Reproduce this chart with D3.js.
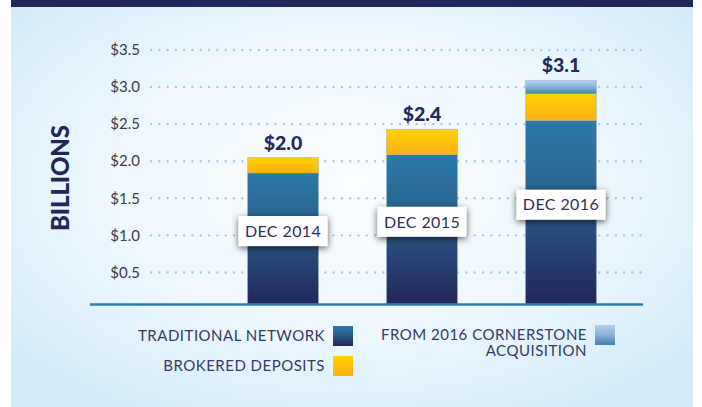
<!DOCTYPE html>
<html>
<head>
<meta charset="utf-8">
<script src="https://cdn.jsdelivr.net/npm/d3@7"></script>
<style>
  body { margin: 0; background: #fff; }
  svg { display: block; font-family: Lato, "Open Sans", sans-serif; }
</style>
</head>
<body>
<svg id="chart"></svg>
<script>
// values, in billions
const categories = ['DEC 2014', 'DEC 2015', 'DEC 2016'];
const traditional = [1.84, 2.09, 2.55];
const brokered = [0.21, 0.34, 0.36];
const cornerstone = [0, 0, 0.18];
const totalLabels = ['$2.0', '$2.4', '$3.1'];
const yTicks = [0.5, 1.0, 1.5, 2.0, 2.5, 3.0, 3.5];

const W = 702, H = 407;
const svg = d3.select('#chart').attr('width', W).attr('height', H);
const defs = svg.append('defs');

const bg = defs.append('radialGradient').attr('id', 'bg')
    .attr('cx', '50%').attr('cy', '45%').attr('r', '65%');
bg.append('stop').attr('offset', '0%').attr('stop-color', '#fbfdff');
bg.append('stop').attr('offset', '55%').attr('stop-color', '#eef8fe');
bg.append('stop').attr('offset', '100%').attr('stop-color', '#d3ecfa');

const grad = (id, c1, c2, mid) => {
    const g = defs.append('linearGradient').attr('id', id)
        .attr('x1', 0).attr('y1', 0).attr('x2', 0).attr('y2', 1);
    g.append('stop').attr('offset', '0%').attr('stop-color', c1);
    if (mid) g.append('stop').attr('offset', mid[0]).attr('stop-color', mid[1]);
    g.append('stop').attr('offset', '100%').attr('stop-color', c2);
};
grad('g-trad', '#2a7aa9', '#21265a', ['35%', '#2a6591']);
grad('g-brok', '#ffd200', '#fcb018');
grad('g-corn', '#b6cfea', '#3f80b5', ['45%', '#8fb4da']);

const shadow = defs.append('filter').attr('id', 'shadow')
    .attr('x', '-30%').attr('y', '-60%').attr('width', '160%').attr('height', '220%');
shadow.append('feDropShadow').attr('dx', 0).attr('dy', 2)
    .attr('stdDeviation', 3.5).attr('flood-color', '#000').attr('flood-opacity', 0.65);

// background panel and top band
svg.append('rect').attr('x', 11).attr('y', 0).attr('width', 682).attr('height', H).attr('fill', 'url(#bg)');
svg.append('rect').attr('x', 11).attr('y', 0).attr('width', 682).attr('height', 7).attr('fill', '#22275a');

const x = d3.scaleBand()
    .domain(categories)
    .range([179.5, 664.5])
    .paddingInner(0.49)
    .paddingOuter(0.49);

const y = d3.scaleLinear()
    .domain([0, 3.5])
    .range([309.5, 50]);

const baseY = 304;

// gridlines
svg.append('g').selectAll('line')
    .data(yTicks)
    .join('line')
    .attr('x1', 151).attr('x2', 641)
    .attr('y1', d => y(d)).attr('y2', d => y(d))
    .attr('stroke', '#a9c6e6')
    .attr('stroke-width', 2.4)
    .attr('stroke-linecap', 'round')
    .attr('stroke-dasharray', '0 8.3');

svg.append('g').selectAll('text')
    .data(yTicks)
    .join('text')
    .attr('x', 140)
    .attr('y', d => y(d))
    .attr('dy', '0.35em')
    .attr('text-anchor', 'end')
    .attr('fill', '#3d3d45')
    .style('font-size', '15px')
    .text(d => '$' + d.toFixed(1));

// stacked bars
const rows = categories.map((c, i) => ({
    cat: c, traditional: traditional[i], brokered: brokered[i], cornerstone: cornerstone[i]
}));
const keys = ['traditional', 'brokered', 'cornerstone'];
const fills = { traditional: 'url(#g-trad)', brokered: 'url(#g-brok)', cornerstone: 'url(#g-corn)' };
const series = d3.stack().keys(keys)(rows);

svg.append('g').selectAll('g')
    .data(series)
    .join('g')
    .attr('fill', d => fills[d.key])
    .selectAll('rect')
    .data(d => d.filter(p => p[1] > p[0]))
    .join('rect')
    .attr('x', d => x(d.data.cat))
    .attr('width', x.bandwidth())
    .attr('y', d => y(d[1]))
    .attr('height', d => (d[0] === 0 ? baseY : y(d[0])) - y(d[1]));

// thin edges on the bars
svg.append('g').selectAll('rect')
    .data(rows)
    .join('rect')
    .attr('x', d => x(d.cat))
    .attr('width', x.bandwidth())
    .attr('y', d => y(d.traditional + d.brokered + d.cornerstone))
    .attr('height', d => baseY - y(d.traditional + d.brokered + d.cornerstone))
    .attr('fill', 'none')
    .attr('stroke', '#8ea6c4')
    .attr('stroke-opacity', 0.45)
    .attr('stroke-width', 1);

// totals
svg.append('g').selectAll('text')
    .data(rows)
    .join('text')
    .attr('x', d => x(d.cat) + x.bandwidth() / 2)
    .attr('y', d => y(d.traditional + d.brokered + d.cornerstone) - 8)
    .attr('text-anchor', 'middle')
    .attr('fill', '#232a5c')
    .style('font-size', '19.5px')
    .style('font-weight', 900)
    .text((d, i) => totalLabels[i]);

// date labels
const tags = svg.append('g').selectAll('g')
    .data(rows)
    .join('g')
    .attr('transform', d => `translate(${x(d.cat) + x.bandwidth() / 2},${(y(d.traditional) + baseY) / 2 - 7.5})`);
tags.append('rect')
    .attr('x', -44.5).attr('y', -15)
    .attr('width', 89).attr('height', 30)
    .attr('fill', '#fff')
    .attr('filter', 'url(#shadow)');
tags.append('text')
    .attr('text-anchor', 'middle')
    .attr('dy', '0.36em')
    .attr('fill', '#2b2f60')
    .style('font-size', '16px')
    .style('letter-spacing', '0.4px')
    .text(d => d.cat);

// baseline
svg.append('line')
    .attr('x1', 90).attr('x2', 643)
    .attr('y1', baseY + 0.5).attr('y2', baseY + 0.5)
    .attr('stroke', '#3479ab')
    .attr('stroke-width', 2.5);

// axis title
svg.append('text')
    .attr('transform', 'translate(69,178) rotate(-90)')
    .attr('text-anchor', 'middle')
    .attr('fill', '#22275a')
    .style('font-size', '24px')
    .style('font-weight', 900)
    .attr('textLength', 106)
    .text('BILLIONS');

// legend
const legend = [
    { label: ['TRADITIONAL NETWORK'], fill: 'url(#g-trad)', x: 333, y: 326 },
    { label: ['BROKERED DEPOSITS'], fill: 'url(#g-brok)', x: 333, y: 356 },
    { label: ['FROM 2016 CORNERSTONE', 'ACQUISITION'], fill: 'url(#g-corn)', x: 595, y: 325 }
];
const lg = svg.append('g').selectAll('g')
    .data(legend)
    .join('g')
    .attr('transform', d => `translate(${d.x},${d.y})`);
lg.append('rect')
    .attr('width', 20).attr('height', 20)
    .attr('fill', d => d.fill);
lg.append('text')
    .attr('text-anchor', 'end')
    .attr('fill', '#353a6a')
    .style('font-size', '15px')
    .style('letter-spacing', '0.5px')
    .selectAll('tspan')
    .data(d => d.label)
    .join('tspan')
    .attr('x', -8)
    .attr('y', (d, i) => 9.5 + i * 16.5)
    .attr('dy', '0.36em')
    .text(d => d);
</script>
</body>
</html>
